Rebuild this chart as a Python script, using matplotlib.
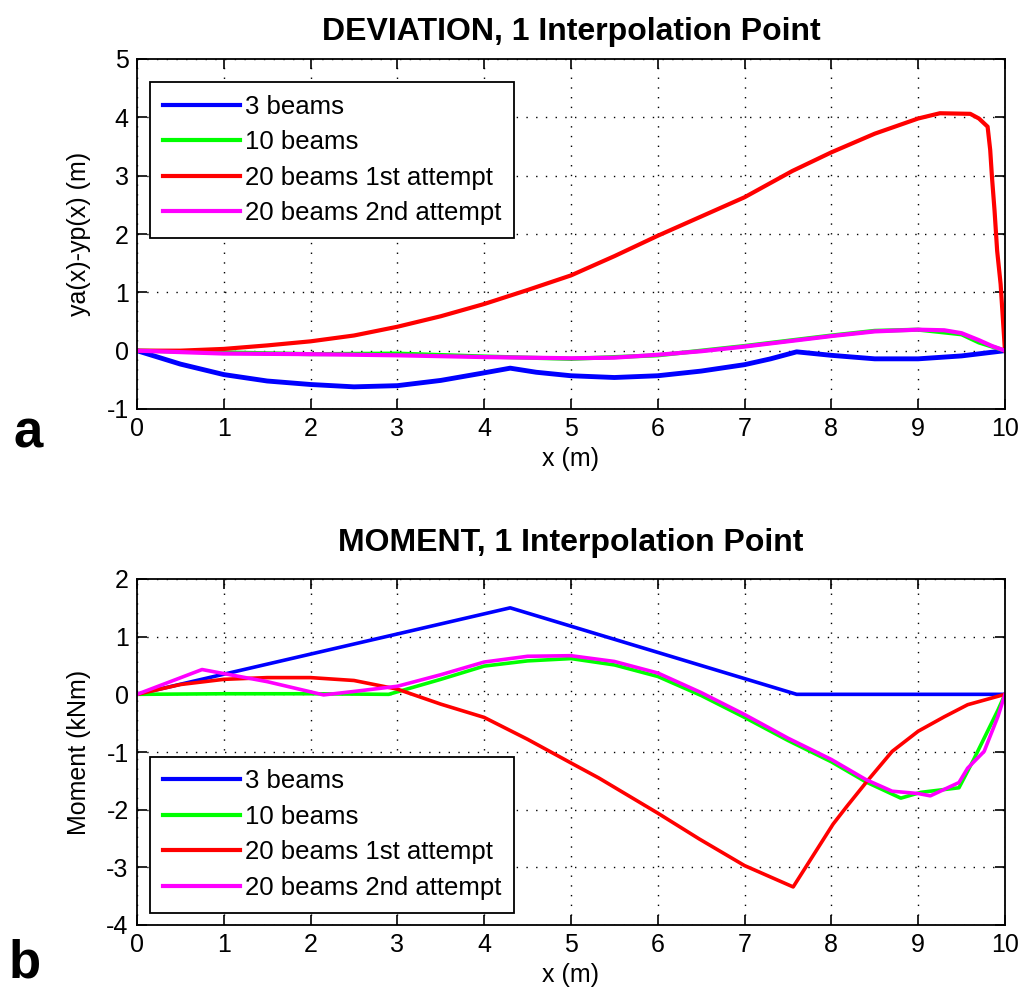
import numpy as np
import matplotlib
matplotlib.use("Agg")
import matplotlib.pyplot as plt

plt.rcParams['font.family'] = ['Liberation Sans', 'DejaVu Sans']
plt.rcParams['axes.unicode_minus'] = False

labels = ['3 beams', '10 beams', '20 beams 1st attempt', '20 beams 2nd attempt']
colors = ['#0000ff', '#00ff00', '#ff0000', '#ff00ff']

# deviation ya(x)-yp(x)
x_dev_3 = [0, 0.5, 1, 1.5, 2, 2.5, 3, 3.5, 4, 4.3, 4.6, 5, 5.5, 6, 6.5, 7, 7.3, 7.6, 8, 8.5, 9, 9.5, 10]
dev_3 = [0, -0.23, -0.41, -0.52, -0.58, -0.62, -0.6, -0.51, -0.38, -0.3, -0.37, -0.43, -0.46, -0.43, -0.35, -0.24, -0.14, -0.02, -0.08, -0.14, -0.14, -0.09, 0]

x_dev_10 = [0, 1, 2, 3, 4, 5, 6, 7, 8, 8.5, 9, 9.5, 9.7, 10]
dev_10 = [0, -0.03, -0.06, -0.05, -0.1, -0.14, -0.08, 0.08, 0.26, 0.34, 0.36, 0.28, 0.14, 0]

x_dev_20a = [0, 0.5, 1, 1.5, 2, 2.5, 3, 3.5, 4, 4.5, 5, 5.5, 6, 6.5, 7, 7.55, 8, 8.5, 9, 9.25,
             9.6, 9.7, 9.8, 9.83, 9.85, 9.88, 9.91, 9.95, 10]
dev_20a = [0, 0.0, 0.03, 0.09, 0.16, 0.26, 0.41, 0.59, 0.8, 1.04, 1.29, 1.62, 1.97, 2.3, 2.63, 3.08, 3.4, 3.72, 3.98, 4.07,
           4.06, 3.98, 3.84, 3.44, 2.98, 2.4, 1.71, 1.14, 0]

x_dev_20b = [0, 1, 2, 3, 4, 5, 5.5, 6, 6.5, 7, 7.5, 8, 8.5, 9, 9.3, 9.5, 9.7, 9.85, 10]
dev_20b = [0, -0.05, -0.06, -0.08, -0.11, -0.13, -0.12, -0.07, -0.01, 0.07, 0.16, 0.25, 0.33, 0.36, 0.35, 0.3, 0.18, 0.08, 0]

# bending moment
x_mom_3 = [0, 4.3, 7.6, 10]
mom_3 = [0, 1.5, 0, 0]

x_mom_10 = [0, 1, 2, 2.9, 3.5, 4, 4.5, 5, 5.5, 6, 6.5, 7, 7.5, 8, 8.4, 8.8, 9.03, 9.47, 9.64, 9.92, 10]
mom_10 = [0, 0.01, 0.01, 0.0, 0.26, 0.49, 0.58, 0.62, 0.51, 0.31, -0.02, -0.4, -0.8, -1.17, -1.52, -1.8, -1.7, -1.62, -1.13, -0.27, 0]

x_mom_20a = [0, 0.5, 1, 1.5, 2, 2.5, 3, 3.5, 4, 4.5, 5, 5.32, 6, 6.48, 7, 7.56, 8.02, 8.18, 8.41, 8.7, 9.0, 9.3, 9.57, 10]
mom_20a = [0, 0.17, 0.26, 0.29, 0.29, 0.24, 0.09, -0.17, -0.4, -0.78, -1.19, -1.45, -2.06, -2.51, -2.97, -3.34, -2.25, -1.94, -1.51, -0.99, -0.64, -0.39, -0.18, 0]

x_mom_20b = [0, 0.75, 1.5, 2.15, 2.5, 3, 3.5, 4, 4.5, 5, 5.5, 6, 6.5, 7, 7.5, 8, 8.4, 8.7, 9.0, 9.14, 9.47, 9.57, 9.76, 9.92, 10]
mom_20b = [0, 0.43, 0.22, -0.01, 0.05, 0.14, 0.34, 0.56, 0.66, 0.67, 0.57, 0.37, 0.03, -0.35, -0.76, -1.13, -1.48, -1.68, -1.72, -1.76, -1.53, -1.28, -0.99, -0.38, 0]

x_ticks = list(range(0, 11))
dev_ticks = list(range(-1, 6))
mom_ticks = list(range(-4, 3))


def style_axes(ax, yticks):
    ax.set_xlim(0, 10)
    ax.set_ylim(yticks[0], yticks[-1])
    ax.set_xticks(x_ticks)
    ax.set_yticks(yticks)
    ax.grid(True, color='k', linestyle=(0, (1, 6)), linewidth=1.0)
    ax.tick_params(direction='in', length=7, width=1.2, top=True, right=True,
                   labelsize=18, pad=6)
    for sp in ax.spines.values():
        sp.set_linewidth(1.3)
    ax.set_xlabel('x (m)', fontsize=18, labelpad=4)


fig = plt.figure(figsize=(10.26, 10), dpi=100)
ax1 = fig.add_axes([0.1335, 0.591, 0.846, 0.35])
ax2 = fig.add_axes([0.1335, 0.075, 0.846, 0.346])

dev = [(x_dev_3, dev_3), (x_dev_10, dev_10), (x_dev_20a, dev_20a), (x_dev_20b, dev_20b)]
mom = [(x_mom_3, mom_3), (x_mom_10, mom_10), (x_mom_20a, mom_20a), (x_mom_20b, mom_20b)]
widths = [3.5, 3, 3, 3]

for (xs, ys), c, lab, w in zip(dev, colors, labels, widths):
    ax1.plot(xs, ys, color=c, lw=w, label=lab)
for (xs, ys), c, lab in zip(mom, colors, labels):
    ax2.plot(xs, ys, color=c, lw=2.6, label=lab)

style_axes(ax1, dev_ticks)
style_axes(ax2, mom_ticks)
ax1.set_ylabel('ya(x)-yp(x) (m)', fontsize=18, labelpad=11)
ax2.set_ylabel('Moment (kNm)', fontsize=18, labelpad=11)
ax1.set_title('DEVIATION, 1 Interpolation Point', fontsize=23, fontweight='bold', pad=14)
ax2.set_title('MOMENT, 1 Interpolation Point', fontsize=23, fontweight='bold', pad=20)

leg_kw = dict(fontsize=18.5, fancybox=False, edgecolor='k', framealpha=1,
              handlelength=3.0, handletextpad=0.2, labelspacing=0.45,
              borderaxespad=0, borderpad=0.5)
l1 = ax1.legend(loc='upper left', bbox_to_anchor=(0.015, 0.935), **leg_kw)
l2 = ax2.legend(loc='lower left', bbox_to_anchor=(0.015, 0.035), **leg_kw)
for lg in (l1, l2):
    lg.get_frame().set_linewidth(1.3)
    for h in lg.legend_handles:
        h.set_linewidth(3)

fig.text(0.027, 0.552, 'a', fontsize=38, fontweight='bold', ha='center', va='baseline')
fig.text(0.024, 0.022, 'b', fontsize=38, fontweight='bold', ha='center', va='baseline')

fig.savefig('out.png', dpi=100)
